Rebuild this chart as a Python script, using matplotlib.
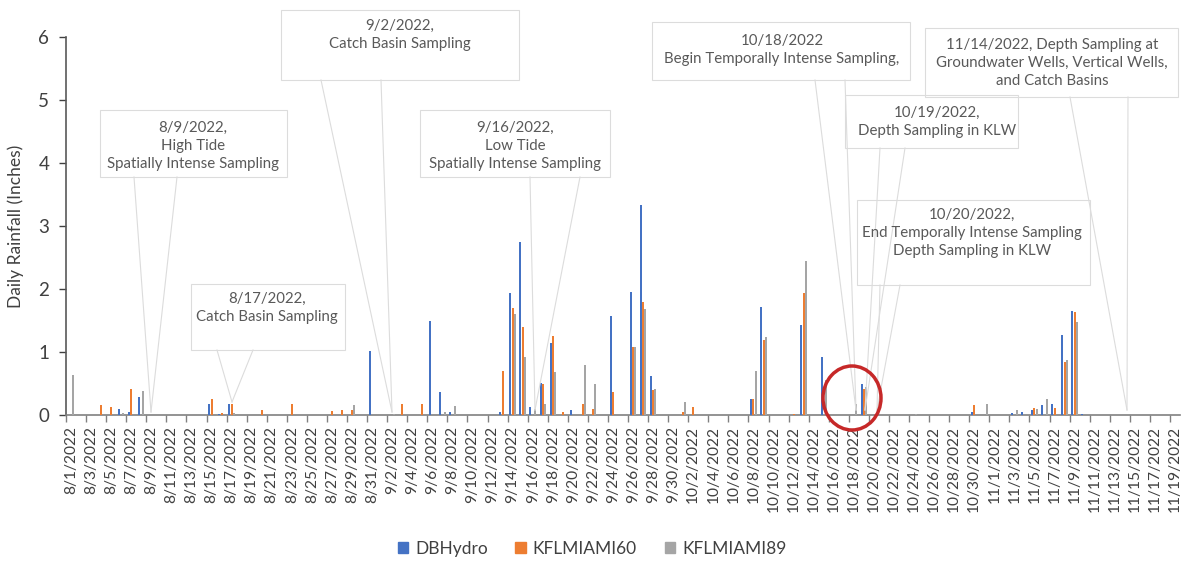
import numpy as np
import pandas as pd
import matplotlib
matplotlib.use('Agg')
import matplotlib.pyplot as plt
from matplotlib.patches import Rectangle, Ellipse, Patch
from matplotlib.lines import Line2D

plt.rcParams['font.family'] = ['Lato', 'DejaVu Sans']

# daily categories 8/1/2022 .. 11/19/2022
dates = pd.date_range('2022-08-01', '2022-11-19')
labels = [f'{d.month}/{d.day}/{d.year}' for d in dates]

# daily rainfall (inches), one value per day
dbhydro = [0, 0, 0, 0, 0, 0.09, 0.04, 0.29, 0, 0,
           0, 0, 0, 0, 0.17, 0.02, 0.18, 0, 0, 0,
           0, 0, 0, 0, 0, 0, 0, 0, 0, 0,
           1.02, 0, 0, 0, 0, 0, 1.49, 0.37, 0.05, 0,
           0, 0, 0, 0.04, 1.94, 2.74, 0.12, 0.51, 1.14, 0,
           0.08, 0, 0, 0, 1.57, 0, 1.95, 3.34, 0.62, 0,
           0, 0, 0, 0, 0, 0, 0, 0, 0.25, 1.72,
           0, 0, 0, 1.43, 0, 0.92, 0, 0, 0, 0.50,
           0, 0, 0, 0, 0, 0, 0, 0, 0, 0,
           0.04, 0, 0, 0, 0.03, 0.05, 0.08, 0.16, 0.17, 1.27,
           1.65, 0.02, 0, 0, 0, 0, 0, 0, 0, 0, 0]

kfl60 = [0, 0, 0, 0.16, 0.12, 0, 0.41, 0, 0, 0,
         0, 0, 0, 0, 0.26, 0.03, 0.18, 0, 0, 0.08,
         0, 0, 0.18, 0, 0, 0, 0.06, 0.08, 0.08, 0,
         0, 0, 0, 0.18, 0, 0.18, 0, 0, 0, 0,
         0, 0, 0, 0.70, 1.70, 1.39, 0, 0.50, 1.25, 0.05,
         0, 0.18, 0.09, 0, 0.36, 0, 1.08, 1.79, 0.40, 0,
         0, 0.04, 0.12, 0, 0, 0, 0, 0, 0.25, 1.19,
         0, 0, 0.02, 1.94, 0, 0, 0, 0, 0, 0.41,
         0, 0, 0, 0, 0, 0, 0, 0, 0, 0,
         0.16, 0, 0, 0, 0, 0, 0.11, 0, 0.11, 0.84,
         1.63, 0, 0, 0, 0, 0, 0, 0, 0, 0, 0]

kfl89 = [0.64, 0, 0, 0, 0, 0.03, 0, 0.38, 0, 0,
         0, 0, 0, 0, 0, 0, 0.03, 0, 0, 0,
         0, 0, 0, 0, 0, 0, 0, 0, 0.16, 0,
         0, 0, 0.02, 0, 0, 0, 0, 0.05, 0.14, 0,
         0, 0, 0, 0, 1.60, 0.92, 0.10, 0.18, 0.69, 0,
         0, 0.79, 0.50, 0, 0, 0, 1.08, 1.69, 0.42, 0,
         0, 0.20, 0, 0, 0, 0, 0, 0, 0.70, 1.24,
         0, 0, 0, 2.44, 0, 0.55, 0, 0, 0.18, 0.45,
         0, 0, 0, 0, 0.02, 0, 0, 0, 0, 0,
         0, 0.17, 0, 0, 0.08, 0, 0.10, 0.25, 0, 0.87,
         1.48, 0, 0, 0, 0, 0, 0, 0, 0, 0, 0]

series = ['DBHydro', 'KFLMIAMI60', 'KFLMIAMI89']
colors = ['#4472C4', '#ED7D31', '#A5A5A5']

W, H = 1181, 562
fig = plt.figure(figsize=(W / 100, H / 100), dpi=100)
ax = fig.add_axes([66 / W, 1 - 415 / H, (1180 - 66) / W, (415 - 37) / H])

x = np.arange(len(dates))
bw = 0.2
for vals, off, c, name in zip([dbhydro, kfl60, kfl89], [-0.22, 0, 0.22], colors, series):
    ax.bar(x + off, vals, bw, color=c, label=name, zorder=3)

ax.set_xlim(-0.5, len(dates) - 0.5)
ax.set_ylim(0, 6)
ax.set_yticks(range(7))
ax.tick_params(axis='y', labelsize=13.5, colors='#404040', length=5, width=1, direction='out', pad=7)
ax.set_ylabel('Daily Rainfall (Inches)', fontsize=12.5, color='#404040', labelpad=10)

ax.set_xticks(x[::2])
ax.set_xticklabels(labels[::2], rotation=90, fontsize=11.2, color='#404040')
ax.set_xticks(np.arange(-0.5, len(dates), 2), minor=True)
ax.tick_params(axis='x', which='major', length=0, pad=8)
ax.tick_params(axis='x', which='minor', length=5, color='#808080', width=1)

for s in ['top', 'right']:
    ax.spines[s].set_visible(False)
ax.spines['left'].set_color('#595959')
ax.spines['left'].set_linewidth(1.2)
ax.spines['bottom'].set_color('#808080')
ax.spines['bottom'].set_linewidth(1.2)


def fx(p):
    return p / W


def fy(p):
    return 1 - p / H


# callouts: text, text centre, box (x0, y0, x1, y1), wedge base xs, tip (pixels)
callouts = [
    ('8/9/2022,\nHigh Tide\nSpatially Intense Sampling', (193, 146), (100, 110, 287, 177), (134, 177), (151, 412)),
    ('9/2/2022,\nCatch Basin Sampling', (400, 35), (281, 10, 519, 80), (321, 381), (392, 412)),
    ('8/17/2022,\nCatch Basin Sampling', (267, 308), (191, 284, 345, 350), (217, 253), (232, 402)),
    ('9/16/2022,\nLow Tide\nSpatially Intense Sampling', (515, 146), (420, 110, 610, 177), (530, 580), (535, 410)),
    ('10/18/2022\nBegin Temporally Intense Sampling,', (782, 50), (652, 22, 910, 80), (815, 845), (856, 410)),
    ('10/19/2022,\nDepth Sampling in KLW', (937, 122), (845, 95, 1018, 148), (880, 905), (865, 410)),
    ('10/20/2022,\nEnd Temporally Intense Sampling\nDepth Sampling in KLW', (972, 233), (857, 200, 1090, 285), (880, 900), (877, 410)),
    ('11/14/2022, Depth Sampling at\nGroundwater Wells, Vertical Wells,\nand Catch Basins', (1052, 63), (925, 28, 1178, 97), (1070, 1128), (1127, 410)),
]

lc = '#dcdcdc'
for txt, (cx, cy), (x0, y0, x1, y1), (b1, b2), (tx, ty) in callouts:
    fig.add_artist(Rectangle((fx(x0), fy(y1)), fx(x1) - fx(x0), fy(y0) - fy(y1),
                             transform=fig.transFigure, fill=False, ec=lc, lw=0.8, zorder=4))
    for b in (b1, b2):
        fig.add_artist(Line2D([fx(b), fx(tx)], [fy(y1), fy(ty)], transform=fig.transFigure,
                              color=lc, lw=0.8, zorder=4))
    fig.text(fx(cx), fy(cy), txt, ha='center', va='center', fontsize=10.8,
             color='#595959', linespacing=1.35, zorder=5)

# red circle around 10/18 - 10/20
fig.add_artist(Ellipse((fx(852), fy(398)), 58 / W, 64 / H, transform=fig.transFigure,
                       fill=False, ec='#C62828', lw=2.5, zorder=6))

handles = [Patch(color=c, label=n) for c, n in zip(colors, series)]
fig.legend(handles=handles, loc='center', bbox_to_anchor=(fx(592), fy(549)), ncol=3,
           frameon=False, fontsize=12.5, handlelength=0.6, handleheight=0.6,
           handletextpad=0.4, columnspacing=1.6, labelcolor='#404040')

fig.savefig('out.png', dpi=100)
